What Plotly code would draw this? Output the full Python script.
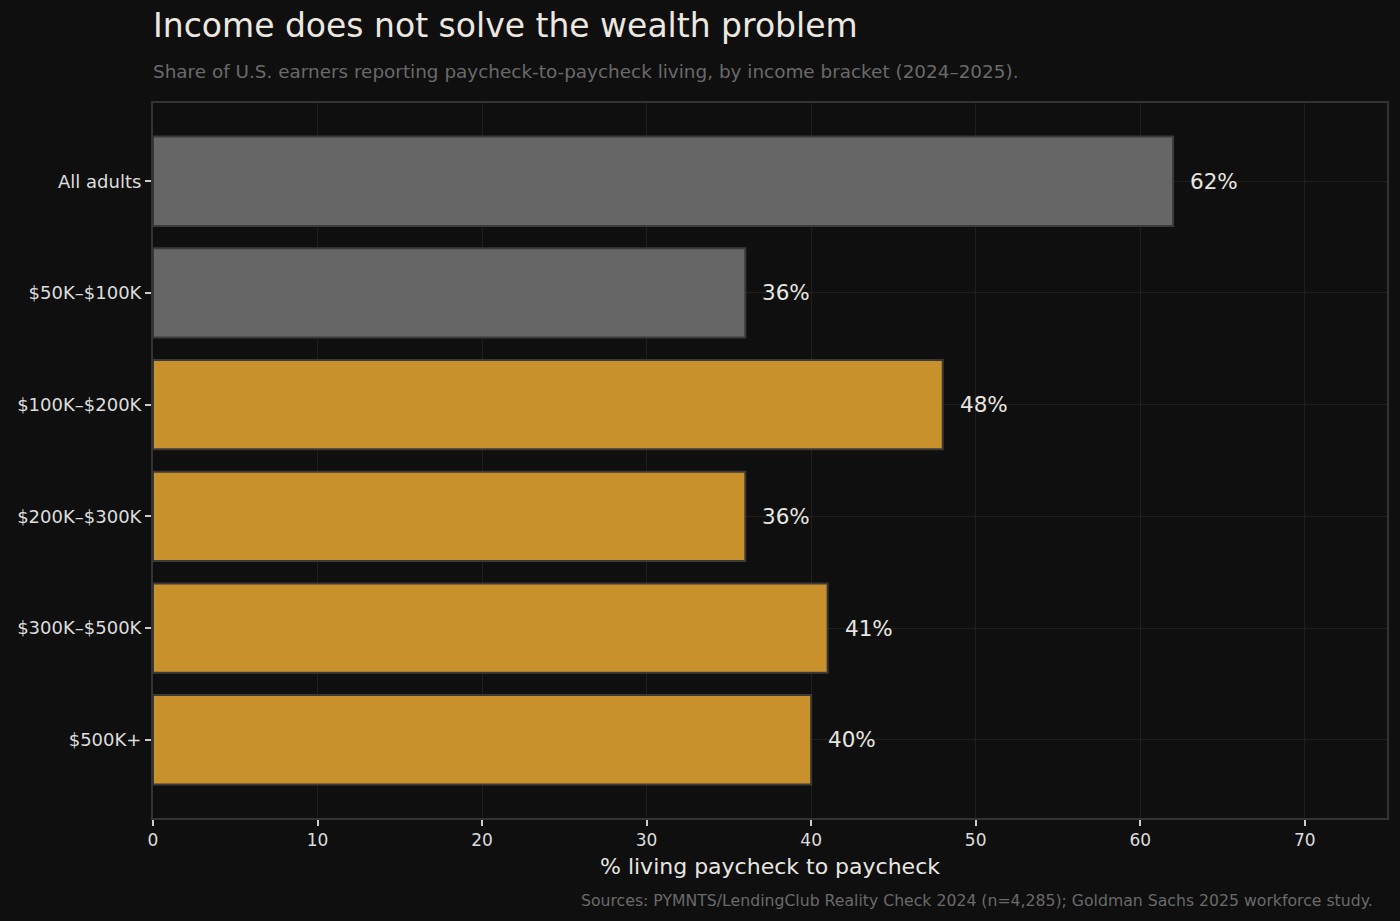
import plotly.graph_objects as go

categories = ["All adults", "$50K–$100K", "$100K–$200K", "$200K–$300K", "$300K–$500K", "$500K+"]
values = [62, 36, 48, 36, 41, 40]
colors = ["#666666", "#666666", "#c8912c", "#c8912c", "#c8912c", "#c8912c"]
labels = [f"{v}%" for v in values]
xticks = [0, 10, 20, 30, 40, 50, 60, 70]

FONT = "DejaVu Sans"
BG = "#0f0f0f"

fig = go.Figure()
fig.add_trace(go.Bar(
    y=categories, x=values, orientation="h",
    marker=dict(color=colors, line=dict(color="#3a3a3a", width=2)),
    width=0.8,
    hoverinfo="skip",
))
for c, v, t in zip(categories, values, labels):
    fig.add_annotation(x=v, y=c, text=t, showarrow=False, xanchor="left",
                       xshift=15, font=dict(family=FONT, size=21.5, color="#e8e6e0"))

fig.update_layout(
    width=1400, height=921,
    paper_bgcolor=BG, plot_bgcolor=BG,
    margin=dict(l=153, r=13, t=103, b=103),
    showlegend=False,
    font=dict(family=FONT, color="#dddddd"),
    xaxis=dict(range=[0, 75], tickvals=xticks, showgrid=True, gridcolor="#1f1f1f", gridwidth=1,
               zeroline=False, showline=True, linecolor="#333333", linewidth=2, mirror=True,
               ticks="outside", ticklen=6, tickcolor="#cccccc", tickwidth=1.5,
               tickfont=dict(family=FONT, size=17, color="#dddddd"),
               title=dict(text="% living paycheck to paycheck", font=dict(family=FONT, size=22, color="#e8e6e0"), standoff=9)),
    yaxis=dict(range=[5.7, -0.7], showgrid=True, gridcolor="#1f1f1f", gridwidth=1,
               zeroline=False, showline=True, linecolor="#333333", linewidth=2, mirror=True,
               ticks="outside", ticklen=6, tickcolor="#cccccc", tickwidth=1.5,
               tickfont=dict(family=FONT, size=18, color="#dddddd")),
)
fig.add_annotation(xref="paper", yref="paper", x=0, y=1, yshift=56, xshift=-2, xanchor="left", yanchor="bottom",
                   text="Income does not solve the wealth problem", showarrow=False,
                   font=dict(family=FONT, size=33, color="#ece8e0"))
fig.add_annotation(xref="paper", yref="paper", x=0, y=1, yshift=19, xshift=-2, xanchor="left", yanchor="bottom",
                   text="Share of U.S. earners reporting paycheck-to-paycheck living, by income bracket (2024–2025).",
                   showarrow=False, font=dict(family=FONT, size=18.4, color="#6a6a6a"))
fig.add_annotation(xref="paper", yref="paper", x=0.99, y=0, yshift=-82, xanchor="right", yanchor="middle",
                   text="Sources: PYMNTS/LendingClub Reality Check 2024 (n=4,285); Goldman Sachs 2025 workforce study.",
                   showarrow=False, font=dict(family=FONT, size=15.7, color="#6a6a6a"))

fig.write_html("out.html")
